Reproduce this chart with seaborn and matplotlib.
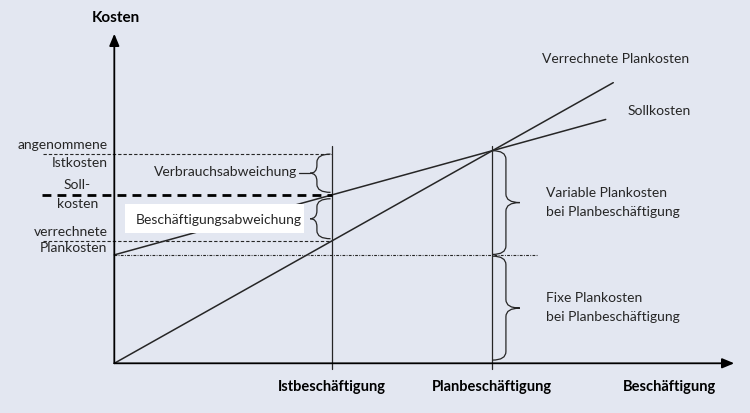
import numpy as np
import pandas as pd
import matplotlib
matplotlib.use("Agg")
import matplotlib.pyplot as plt
import seaborn as sns
from matplotlib.path import Path
from matplotlib.patches import PathPatch, Rectangle

sns.set_theme(style="white")
plt.rcParams['font.family'] = ['Lato', 'DejaVu Sans']

# ---------------------------------------------------------------------------
# data (Beschäftigung in % der Planbeschäftigung, Kosten in % der Plankosten)
# ---------------------------------------------------------------------------
x_axis_max = 164.0
y_axis_max = 155.0
plan_emp = 100.0
ist_emp = 57.5
fix_cost = 51.0
ist_cost = 98.4
soll_at_ist = 79.2
verr_at_ist = 57.5

verr_x = [0.0, 132.0]
verr_y = [0.0, 132.0]
soll_x = [0.0, 130.0]
soll_y = [51.0, 114.7]

lines = pd.DataFrame({
    'Beschäftigung': verr_x + soll_x,
    'Kosten': verr_y + soll_y,
    'Linie': ['Verrechnete Plankosten'] * 2 + ['Sollkosten'] * 2,
})

bg = '#e3e7f1'
ink = '#262626'

fig = plt.figure(figsize=(7.5, 4.14), dpi=100, facecolor=bg)
ax = fig.add_axes([0, 0, 1, 1])
ax.set_facecolor(bg)
ax.set_xlim(-30.24, 168.17)
ax.set_ylim(-23.38, 171.35)
ax.axis('off')

# cost lines
sns.lineplot(data=lines, x='Beschäftigung', y='Kosten', units='Linie',
             estimator=None, color=ink, lw=1.1, ax=ax, legend=False, zorder=2)

# axes with arrows
arrow = dict(arrowstyle='-|>,head_length=0.6,head_width=0.25', color='black',
             lw=1.3, shrinkA=0, shrinkB=0, mutation_scale=12)
ax.annotate('', xy=(x_axis_max, 0), xytext=(0, 0), arrowprops=arrow, zorder=5)
ax.annotate('', xy=(0, y_axis_max), xytext=(0, 0), arrowprops=arrow, zorder=5)

# vertical lines at Ist- and Planbeschäftigung
ax.plot([ist_emp, ist_emp], [-2.7, 102.0], color=ink, lw=0.9, zorder=2)
ax.plot([plan_emp, plan_emp], [-2.7, 102.0], color=ink, lw=0.9, zorder=2)

# horizontal helper lines
ax.plot([-18.9, ist_emp], [ist_cost, ist_cost], color=ink, lw=0.8,
        ls=(0, (3, 1.8)), zorder=2)
ax.plot([-19.2, ist_emp], [soll_at_ist, soll_at_ist], color='black', lw=2.0,
        ls=(0, (3.2, 2.2)), zorder=2)
ax.plot([-18.9, ist_emp], [verr_at_ist, verr_at_ist], color=ink, lw=0.8,
        ls=(0, (3, 1.8)), zorder=2)
ax.plot([0, 111.8], [fix_cost, fix_cost], color=ink, lw=0.8,
        ls=(0, (2.5, 1.2, 0.8, 1.2)), zorder=2)


def brace(x_end, x_spine, x_tip, ya, yb, ry):
    y0, y1 = min(ya, yb), max(ya, yb)
    ym = (y0 + y1) / 2
    verts = [(x_end, y0), (x_spine, y0), (x_spine, y0 + ry),
             (x_spine, ym - ry), (x_spine, ym), (x_tip, ym),
             (x_spine, ym), (x_spine, ym + ry),
             (x_spine, y1 - ry), (x_spine, y1), (x_end, y1)]
    codes = [Path.MOVETO, Path.CURVE3, Path.CURVE3,
             Path.LINETO, Path.CURVE3, Path.CURVE3,
             Path.CURVE3, Path.CURVE3,
             Path.LINETO, Path.CURVE3, Path.CURVE3]
    ax.add_patch(PathPatch(Path(verts, codes), fc='none', ec=ink, lw=0.9,
                           zorder=3))


brace(57.2, 53.6, 51.8, 98.4, 80.4, 3.8)
brace(57.2, 53.6, 51.8, 77.4, 58.6, 3.8)
brace(100.0, 103.6, 107.3, 100.0, 51.2, 4.0)
brace(100.0, 103.6, 107.3, 50.4, 1.5, 4.0)

# leader for Verbrauchsabweichung
ax.plot([48.9, 51.8], [89.4, 89.4], color=ink, lw=0.9, zorder=3)

# white box behind Beschäftigungsabweichung
ax.add_patch(Rectangle((2.8, 61.3), 47.4, 13.6, fc='white', ec='none',
                       zorder=3))

fs = 10
ax.text(0.45, 162.7, 'Kosten', ha='center', va='center', fontsize=11,
        fontweight='bold', color='black')
ax.text(-1.8, 103.2, 'angenommene', ha='right', va='center', fontsize=fs, color=ink)
ax.text(-1.8, 94.5, 'Istkosten', ha='right', va='center', fontsize=fs, color=ink)
ax.text(-9.8, 84.3, 'Soll-', ha='center', va='center', fontsize=fs, color=ink)
ax.text(-9.8, 75.4, 'kosten', ha='center', va='center', fontsize=fs, color=ink)
ax.text(-1.8, 62.4, 'verrechnete', ha='right', va='center', fontsize=fs, color=ink)
ax.text(-1.8, 54.6, 'Plankosten', ha='right', va='center', fontsize=fs, color=ink)

ax.text(48.3, 90.6, 'Verbrauchsabweichung', ha='right', va='center',
        fontsize=fs, color=ink, zorder=4)
ax.text(49.5, 68.0, 'Beschäftigungsabweichung', ha='right', va='center',
        fontsize=fs, color=ink, zorder=4)

ax.text(113.1, 143.5, 'Verrechnete Plankosten', ha='left', va='center',
        fontsize=fs, color=ink)
ax.text(135.8, 119.1, 'Sollkosten', ha='left', va='center', fontsize=fs, color=ink)
ax.text(114.3, 80.4, 'Variable Plankosten', ha='left', va='center',
        fontsize=fs, color=ink)
ax.text(114.3, 71.8, 'bei Planbeschäftigung', ha='left', va='center',
        fontsize=fs, color=ink)
ax.text(114.3, 31.0, 'Fixe Plankosten', ha='left', va='center',
        fontsize=fs, color=ink)
ax.text(114.3, 22.4, 'bei Planbeschäftigung', ha='left', va='center',
        fontsize=fs, color=ink)

ax.text(ist_emp, -10.7, 'Istbeschäftigung', ha='center', va='center',
        fontsize=10.5, fontweight='bold', color='black')
ax.text(plan_emp, -10.7, 'Planbeschäftigung', ha='center', va='center',
        fontsize=10.5, fontweight='bold', color='black')
ax.text(147.0, -10.7, 'Beschäftigung', ha='center', va='center',
        fontsize=10.5, fontweight='bold', color='black')

fig.savefig('out.png', dpi=100, facecolor=bg)
